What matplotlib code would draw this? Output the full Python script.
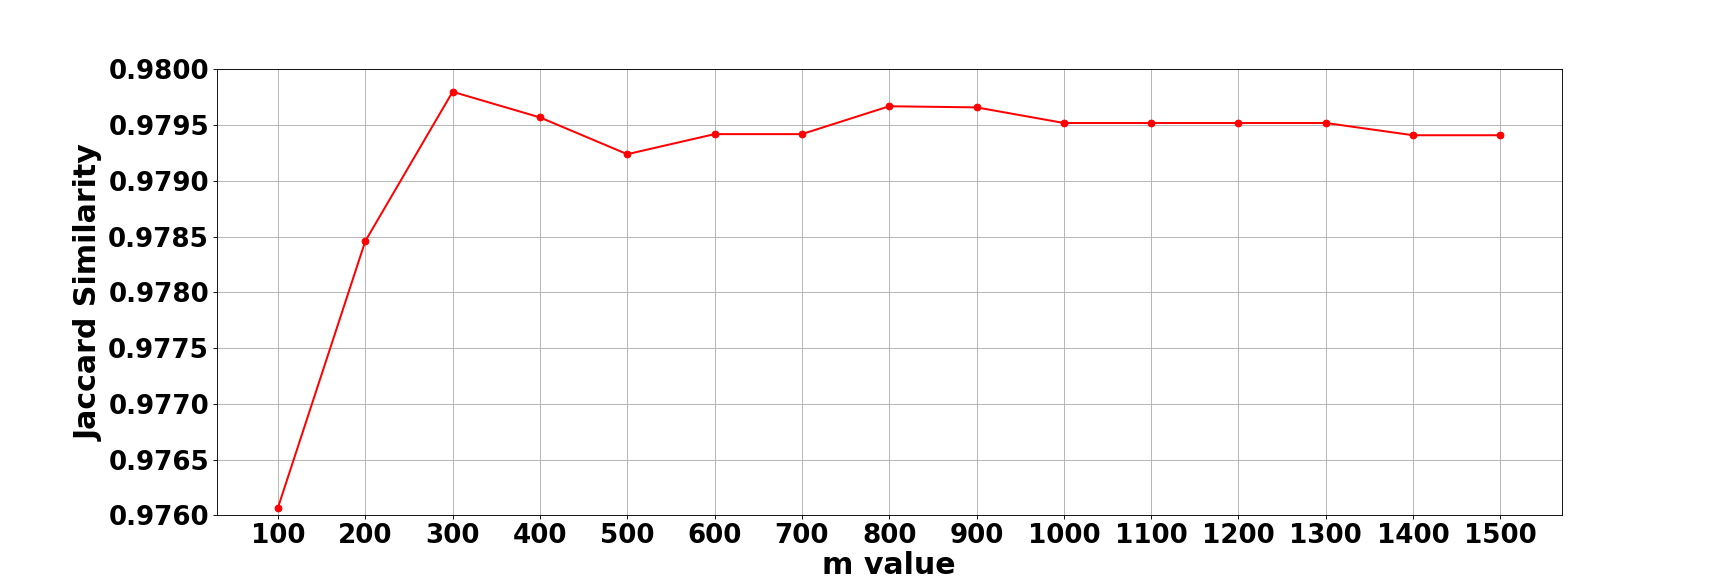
import matplotlib
matplotlib.use("Agg")
import matplotlib.pyplot as plt

# m values and Jaccard similarity
m_values = [100, 200, 300, 400, 500, 600, 700, 800, 900, 1000, 1100, 1200, 1300, 1400, 1500]
jaccard = [0.97607, 0.97846, 0.97980, 0.97957, 0.97924, 0.97942, 0.97942, 0.97967,
           0.97966, 0.97952, 0.97952, 0.97952, 0.97952, 0.97941, 0.97941]

fig, ax = plt.subplots(figsize=(1735 / 80, 579 / 80), dpi=80)
ax.plot(m_values, jaccard, color='red', marker='o', markersize=6, linewidth=1.8)

ax.set_xlabel('m value', fontsize=27, fontweight='bold', labelpad=2)
ax.set_ylabel('Jaccard Similarity', fontsize=27, fontweight='bold')
ax.set_xticks(m_values)
ax.set_ylim(0.9760, 0.9800)
ax.set_yticks([0.9760 + 0.0005 * i for i in range(9)])
ax.set_yticklabels([f'{0.9760 + 0.0005 * i:.4f}' for i in range(9)])
ax.tick_params(labelsize=23.5)
for lbl in ax.get_xticklabels() + ax.get_yticklabels():
    lbl.set_fontweight('bold')
ax.grid(True)

plt.savefig('out.png', dpi=80)
